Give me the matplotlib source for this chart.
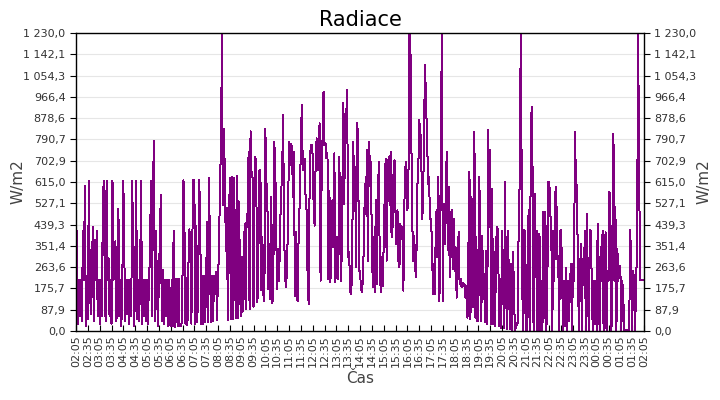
import numpy as np
import matplotlib.pyplot as plt

# radiation samples, one every 2.5 min, 02:05 -> 02:05 next day (24 per hour)
h00 = [210, 415, 30, 210, 60, 210, 40, 415, 210, 600, 20, 210, 50, 620, 210, 70, 210, 430, 40, 375, 210, 415, 60, 210]
h01 = [30, 210, 60, 410, 620, 280, 40, 620, 210, 300, 60, 210, 30, 620, 210, 300, 370, 40, 210, 505, 60, 210, 20, 210]
h02 = [620, 310, 40, 210, 70, 210, 30, 210, 60, 620, 310, 20, 210, 620, 50, 210, 40, 210, 620, 30, 210, 60, 210, 40]
h03 = [210, 30, 210, 310, 620, 60, 575, 785, 40, 415, 210, 20, 210, 380, 560, 40, 250, 30, 210, 60, 210, 20, 210, 30]
h04 = [20, 210, 20, 415, 15, 210, 215, 20, 215, 25, 20, 30, 228, 622, 417, 30, 220, 25, 270, 420, 325, 30, 387, 625]
h05 = [625, 30, 435, 35, 228, 625, 415, 30, 228, 30, 228, 35, 228, 450, 35, 630, 228, 35, 228, 40, 228, 165, 245, 45]
h06 = [245, 300, 635, 730, 1230, 520, 835, 630, 330, 510, 45, 435, 630, 50, 635, 50, 630, 330, 55, 640, 55, 535, 338, 60]
h07 = [305, 80, 200, 442, 90, 485, 430, 740, 90, 825, 655, 635, 100, 608, 720, 530, 120, 338, 663, 663, 170, 387, 150, 124]
h08 = [836, 615, 574, 173, 359, 131, 553, 117, 131, 780, 705, 408, 173, 339, 207, 422, 574, 636, 891, 422, 221, 180, 256, 463]
h09 = [780, 684, 774, 760, 553, 740, 145, 408, 131, 124, 498, 511, 774, 933, 663, 712, 712, 511, 498, 173, 110, 663, 767, 767]
h10 = [726, 511, 435, 691, 795, 663, 719, 857, 207, 594, 802, 988, 767, 774, 712, 733, 214, 580, 200, 415, 539, 345, 733, 200]
h11 = [318, 387, 214, 719, 415, 207, 532, 940, 525, 898, 884, 995, 304, 325, 166, 152, 249, 780, 650, 677, 262, 857, 808, 249]
h12 = [249, 173, 159, 221, 380, 608, 484, 746, 290, 780, 691, 698, 373, 180, 387, 159, 539, 193, 484, 698, 304, 159, 304, 187]
h13 = [352, 553, 712, 290, 615, 719, 518, 740, 387, 429, 650, 705, 491, 359, 498, 290, 262, 442, 380, 429, 166, 525, 677, 698]
h14 = [498, 539, 1230, 1230, 815, 449, 290, 394, 256, 221, 594, 636, 870, 829, 774, 463, 525, 857, 1099, 926, 815, 608, 636, 463]
h15 = [463, 359, 152, 276, 152, 491, 304, 636, 124, 173, 780, 1230, 124, 525, 359, 594, 740, 332, 594, 221, 470, 498, 256, 463]
h16 = [249, 345, 138, 228, 408, 193, 214, 180, 200, 187, 193, 138, 187, 55, 359, 656, 48, 553, 484, 97, 822, 55, 387, 41]
h17 = [41, 636, 345, 41, 394, 131, 235, 35, 332, 28, 829, 429, 746, 28, 587, 28, 325, 21, 359, 429, 415, 21, 214, 14]
h18 = [415, 214, 14, 615, 207, 7, 415, 207, 7, 276, 0, 325, 207, 0, 14, 28, 35, 491, 615, 1230, 608, 0, 415, 415]
h19 = [0, 0, 318, 498, 0, 615, 926, 663, 0, 567, 221, 415, 0, 221, 401, 0, 207, 0, 491, 55, 491, 0, 207, 615]
h20 = [615, 484, 415, 0, 415, 207, 570, 594, 297, 311, 0, 415, 415, 207, 0, 207, 20, 262, 0, 207, 40, 207, 276, 0]
h21 = [276, 207, 822, 608, 600, 242, 0, 207, 359, 0, 297, 207, 415, 0, 484, 207, 0, 415, 415, 207, 0, 207, 30, 207]
h22 = [0, 442, 207, 0, 345, 207, 415, 0, 207, 408, 0, 249, 207, 574, 449, 0, 415, 815, 207, 511, 0, 339, 207, 270]
h23 = [270, 0, 207, 138, 5, 5, 5, 5, 5, 5, 417, 276, 0, 249, 207, 0, 207, 345, 1230, 720, 210, 210, 210, 210]
last = [210]

radiace = np.array(h00 + h01 + h02 + h03 + h04 + h05 + h06 + h07 + h08 + h09 + h10 + h11 +
                   h12 + h13 + h14 + h15 + h16 + h17 + h18 + h19 + h20 + h21 + h22 + h23 + last, dtype=float)
minutes = np.arange(len(radiace)) * 2.5

y_max = 1230.0
y_ticks = np.linspace(0, y_max, 15)
x_ticks = np.arange(0, 1441, 30)
start_min = 2 * 60 + 5
x_labels = [f"{((start_min + m) // 60) % 24:02d}:{(start_min + m) % 60:02d}" for m in x_ticks]


def fmt_cz(v):
    return f"{v:,.1f}".replace(",", " ").replace(".", ",")


fig = plt.figure(figsize=(7.2, 4.0), dpi=100)
ax = fig.add_axes([76 / 720, 69 / 400, 568 / 720, 298 / 400])
ax.plot(minutes, radiace, color="#800080", linewidth=0.72, antialiased=False)

ax.set_xlim(0, 1440)
ax.set_ylim(0, y_max)
ax.set_yticks(y_ticks)
ax.set_yticklabels([fmt_cz(v) for v in y_ticks])
ax.set_xticks(x_ticks)
ax.set_xticklabels(x_labels, rotation=90)
ax.grid(axis="y", color="#e6e6e6", linewidth=0.8)
ax.set_axisbelow(True)
ax.tick_params(axis="x", direction="in", length=4, labelsize=8, labelcolor="#333333", pad=3)
ax.tick_params(axis="y", direction="out", length=4, labelsize=8, labelcolor="#333333",
               left=True, right=True, labelleft=True, labelright=True)
for s in ax.spines.values():
    s.set_color("black")
    s.set_linewidth(1.0)

ax.set_title("Radiace", fontsize=15, pad=5)
ax.set_xlabel("Čas", fontsize=11, color="#444444", labelpad=3)
fig.text(18 / 720, 0.5 + (400 - 2 * 182) / 800, "W/m2", rotation=90, fontsize=11, color="#444444",
         ha="center", va="center")
fig.text(704 / 720, 0.5 + (400 - 2 * 182) / 800, "W/m2", rotation=90, fontsize=11, color="#444444",
         ha="center", va="center")

plt.savefig("out.png", dpi=100)
